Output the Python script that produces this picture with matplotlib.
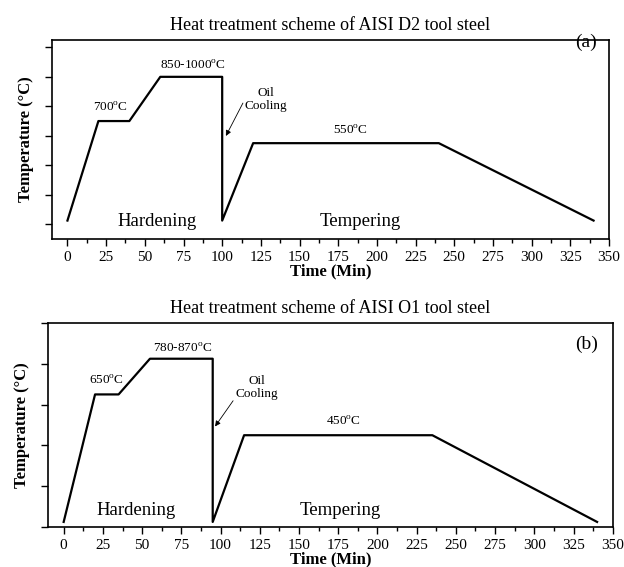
import matplotlib
matplotlib.use('Agg')
import matplotlib.pyplot as plt
from matplotlib.ticker import MultipleLocator

plt.rcParams['font.family'] = 'Liberation Serif'
plt.rcParams['mathtext.fontset'] = 'custom'
plt.rcParams['mathtext.rm'] = 'Liberation Serif'
plt.rcParams['font.size'] = 11

# AISI D2 schedule (time in min, temperature in C)
time_a = [0, 20, 40, 60, 100, 100, 120, 240, 340]
temp_a = [25, 700, 700, 1000, 1000, 25, 550, 550, 25]

# AISI O1 schedule
time_b = [0, 20, 35, 55, 95, 95, 115, 235, 340]
temp_b = [25, 650, 650, 825, 825, 25, 450, 450, 25]

fig = plt.figure(figsize=(6.24, 5.67), dpi=100)
ax1 = fig.add_axes([0.0833, 0.5785, 0.8927, 0.351])
ax2 = fig.add_axes([0.0769, 0.0705, 0.9051, 0.3598])


def style(ax, ylim, ystep):
    ax.set_xlim(-10, 350)
    ax.set_ylim(*ylim)
    ax.xaxis.set_major_locator(MultipleLocator(25))
    ax.xaxis.set_minor_locator(MultipleLocator(12.5))
    ax.yaxis.set_major_locator(MultipleLocator(ystep))
    ax.tick_params(direction='out', length=5, width=1)
    ax.tick_params(which='minor', direction='out', length=3, width=1)
    ax.tick_params(axis='y', labelleft=False)
    for s in ax.spines.values():
        s.set_linewidth(1.2)
    ax.set_xlabel('Time (Min)', fontweight='bold', fontsize=12, labelpad=0)
    ax.set_ylabel('Temperature (°C)', fontweight='bold', fontsize=12, labelpad=8)


def oil(ax, tx, ty, x0, y0, x1, y1):
    ax.text(tx, ty, 'Oil\nCooling', fontsize=9.5, ha='center', va='center',
            linespacing=1.15)
    ax.annotate('', xy=(x1, y1), xytext=(x0, y0),
                arrowprops=dict(arrowstyle='-|>', color='black', lw=0.6,
                                mutation_scale=8, shrinkA=0, shrinkB=0))


deg = '$^{\\rm o}$C'

# (a)
ax1.plot(time_a, temp_a, color='black', lw=1.6)
style(ax1, (-100, 1250), 200)
ax1.set_title('Heat treatment scheme of AISI D2 tool steel', fontsize=13, pad=7)
ax1.text(28, 790, '700' + deg, fontsize=9.5, ha='center', va='center')
ax1.text(81, 1077, '850-1000' + deg, fontsize=9.5, ha='center', va='center')
ax1.text(183, 633, '550' + deg, fontsize=9.5, ha='center', va='center')
oil(ax1, 128, 848, 113.4, 822, 102.4, 599)
ax1.text(58, 20, 'Hardening', fontsize=13.5, ha='center', va='center')
ax1.text(189, 20, 'Tempering', fontsize=13.5, ha='center', va='center')
ax1.text(335, 1232, '(a)', fontsize=14, ha='center', va='center')

# (b)
ax2.plot(time_b, temp_b, color='black', lw=1.6)
style(ax2, (0, 1000), 200)
ax2.set_title('Heat treatment scheme of AISI O1 tool steel', fontsize=13, pad=7)
ax2.text(27, 719, '650' + deg, fontsize=9.5, ha='center', va='center')
ax2.text(76, 875, '780-870' + deg, fontsize=9.5, ha='center', va='center')
ax2.text(178.5, 517, '450' + deg, fontsize=9.5, ha='center', va='center')
oil(ax2, 123, 683, 108, 619, 96.5, 493)
ax2.text(46, 83, 'Hardening', fontsize=13.5, ha='center', va='center')
ax2.text(176, 83, 'Tempering', fontsize=13.5, ha='center', va='center')
ax2.text(333.4, 894, '(b)', fontsize=14, ha='center', va='center')

fig.savefig('out.png', dpi=100)
